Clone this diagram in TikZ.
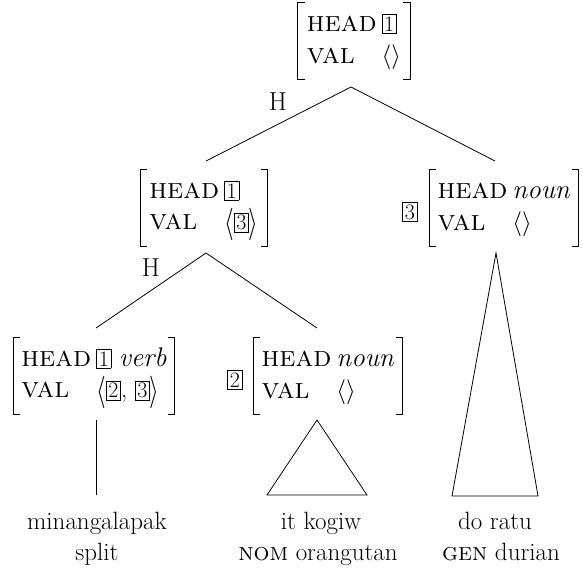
\documentclass[tikz,border=0pt]{standalone}
\usepackage{fontspec}
\newcommand\tbx[1]{{\fontsize{22}{24}\selectfont\setlength\fboxsep{1.8pt}\setlength\fboxrule{0.7pt}\fbox{#1}}}
\newcommand\ft[1]{{\fontsize{29}{29}\selectfont\textsc{#1}}}
\newcommand\ty[1]{{\fontsize{27}{29}\selectfont\textit{#1\/}}}
\newcommand\lang{\raisebox{-2.2pt}{\scalebox{1}[1.3]{$\langle$}}}
\newcommand\rang{\raisebox{-2.2pt}{\scalebox{1}[1.3]{$\rangle$}}}
\newcommand\avmtab[1]{\renewcommand\arraystretch{1.1}\begin{tabular}{@{}l@{\hspace{5pt}}l@{}}#1\end{tabular}}
\newcommand\brk[1]{%
  \draw[br] ([xshift=7pt]#1.north west) -- (#1.north west) -- (#1.south west) -- ([xshift=7pt]#1.south west);
  \draw[br] ([xshift=-7pt]#1.north east) -- (#1.north east) -- (#1.south east) -- ([xshift=-7pt]#1.south east);}
\begin{document}
\begin{tikzpicture}[x=1pt,y=-1pt,
  every node/.style={font=\fontsize{25}{29}\selectfont, inner sep=0pt},
  avm/.style={inner xsep=9pt, inner ysep=0pt, minimum height=77pt},
  br/.style={line width=1pt},
  conn/.style={line width=0.8pt},
  word/.style={anchor=base}]
\useasboundingbox (0,0) rectangle (583,581);
% AVMs
\node[avm] (s) at (354,41) {\avmtab{\ft{head} & \tbx{1}\\ \ft{val} & $\langle\rangle$}};
\node[avm] (vp) at (204,208) {\avmtab{\ft{head} & \tbx{1}\\ \ft{val} & \lang\tbx{3}\rang}};
\node[avm, inner xsep=8pt] (np1) at (504,208) {\avmtab{\ft{head} & \ty{noun}\\ \ft{val} & $\langle\rangle$}};
\node (t3) at (410,212) {\tbx{3}};
\node[avm, inner xsep=8pt] (v) at (94,376) {\avmtab{\ft{head} & \tbx{1} \ty{verb}\\ \ft{val} & \lang\tbx{2}, \tbx{3}\rang}};
\node[avm, inner xsep=8pt] (np2) at (328,376) {\avmtab{\ft{head} & \ty{noun}\\ \ft{val} & $\langle\rangle$}};
\node (t2) at (235,380) {\tbx{2}};
\brk{s}\brk{vp}\brk{np1}\brk{v}\brk{np2}
% connector points
\coordinate (s-b) at (351,87);
\coordinate (vp-t) at (206,161);
\coordinate (np1-t) at (495,161);
\coordinate (vp-b) at (206,253);
\coordinate (v-t) at (96,328);
\coordinate (np2-t) at (317,328);
\coordinate (v-b) at (96,420);
\coordinate (v-e) at (96,495);
\coordinate (np2-b) at (317,420);
\coordinate (np2-l) at (267,495);
\coordinate (np2-r) at (367,495);
\coordinate (np1-b) at (496,253);
\coordinate (np1-l) at (452,496);
\coordinate (np1-r) at (538,496);
\draw[conn] (vp-t) -- (s-b) -- (np1-t);
\draw[conn] (v-t) -- (vp-b) -- (np2-t);
\draw[conn] (v-b) -- (v-e);
\draw[conn] (np2-b) -- (np2-l) -- (np2-r) -- cycle;
\draw[conn] (np1-b) -- (np1-l) -- (np1-r) -- cycle;
% head labels
\node[word, font=\fontsize{26}{29}\selectfont] (h1) at (278,110) {H};
\node[word, font=\fontsize{26}{29}\selectfont] (h2) at (151,276) {H};
% words
\node[word] (w1) at (97,529) {minangalapak};
\node[word] (g1) at (97,560) {split};
\node[word] (w2) at (321,529) {it kogiw};
\node[word] (g2) at (318,560) {\textsc{nom} orangutan};
\node[word] (w3) at (495,529) {do ratu};
\node[word] (g3) at (501,560) {\textsc{gen} durian};
\end{tikzpicture}
\end{document}
